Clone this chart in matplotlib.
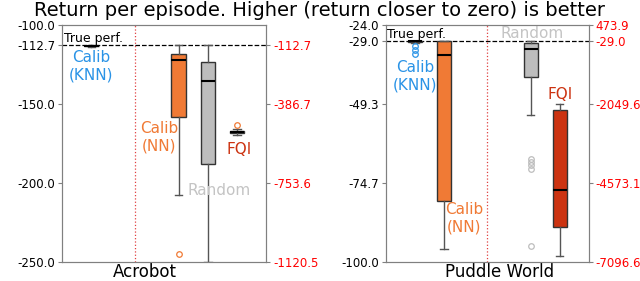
import matplotlib
matplotlib.use("Agg")
import matplotlib.pyplot as plt

# ---------------- data (box stats: whislo, q1, med, q3, whishi) ----------------
acro_true = -112.7
acro_knn = [-113.8, -113.5, -113.2, -113.0, -112.8]
acro_knn_fl = []
acro_nn = [-207.9, -158.5, -121.9, -118.1, -112.7]
acro_nn_fl = [-245.4]
acro_rand = [-250.0, -188.3, -135.8, -123.4, -112.7]
acro_rand_fl = []
acro_fqi = [-530.5, -523.2, -518.0, -511.4, -505.6]   # right (red) scale
acro_fqi_fl = [-483.6]
acro_left_ticks = [-250.0, -200.0, -150.0, -112.7, -100.0]
acro_right_ticks = [-1120.5, -753.6, -386.7, -112.7]
acro_left_lim = (-250.0, -100.0)
acro_right_lim = (-1120.5, -19.8)

pw_true = -29.0
pw_knn = [-29.7, -29.4, -29.2, -29.0, -29.0]
pw_knn_fl = [-30.6, -32.0, -33.4]
pw_nn = [-95.9, -80.5, -33.6, -29.0, -29.0]
pw_nn_fl = []
pw_rand = [-52.9, -40.6, -31.8, -29.9, -29.0]
pw_rand_fl = [-66.9, -68.0, -69.1, -70.2, -94.9]
pw_fqi = [-6917.0, -6001.0, -4806.0, -2246.0, -2056.0]   # right (red) scale
pw_fqi_fl = []
pw_left_ticks = [-100.0, -74.7, -49.3, -29.0, -24.0]
pw_right_ticks = [-7096.6, -4573.1, -2049.6, -29.0, 473.9]
pw_left_lim = (-100.0, -24.0)
pw_right_lim = (-7096.6, 473.9)

env_names = ["Acrobot", "Puddle World"]
title = "Return per episode. Higher (return closer to zero) is better"

# ---------------- style ----------------
C_KNN_BOX = "#1f4f8f"
C_KNN_TXT = "#2a93e6"
C_NN = "#f07a35"
C_RAND = "#bdbdbd"
C_RAND_TXT = "#c4c4c4"
C_FQI = "#cc3311"
SPINE = "#808080"

fig = plt.figure(figsize=(6.4, 2.81), dpi=100)
axL = fig.add_axes([0.097, 0.069, 0.319, 0.842])
axR = fig.add_axes([0.603, 0.069, 0.317, 0.842])


def stat(v, fl):
    return dict(whislo=v[0], q1=v[1], med=v[2], q3=v[3], whishi=v[4], fliers=fl)


def draw(ax, s, pos, color, flcolor):
    ax.bxp([s], positions=[pos], widths=0.5, patch_artist=True,
           boxprops=dict(facecolor=color, edgecolor="#333333", linewidth=1),
           medianprops=dict(color="black", linewidth=1.5),
           whiskerprops=dict(color="#555555", linewidth=1),
           capprops=dict(color="#555555", linewidth=1),
           flierprops=dict(marker="o", markerfacecolor="none",
                           markeredgecolor=flcolor, markersize=4, markeredgewidth=0.9),
           manage_ticks=False)


def setup(ax, lim, rlim, lticks, rticks, true_v, vline_x, xlab, xlab_pos):
    ax.set_xlim(0, 7)
    ax.set_ylim(*lim)
    ax.set_yticks(lticks)
    ax.set_yticklabels(["%.1f" % t for t in lticks], fontsize=8.5)
    ax.set_xticks([xlab_pos])
    ax.set_xticklabels([xlab], fontsize=12)
    ax.tick_params(axis="x", length=0, pad=1.2)
    ax.tick_params(axis="y", colors=SPINE, labelcolor="black", length=3, pad=2)
    for sp in ax.spines.values():
        sp.set_color(SPINE)
    ax.axhline(true_v, color="black", linestyle="--", linewidth=0.9, zorder=1)
    ax.axvline(vline_x, color="#e04040", linestyle=":", linewidth=0.9, zorder=1)
    ax.text(0.05, true_v, "True perf.", fontsize=9, va="bottom", ha="left")
    tw = ax.twinx()
    tw.set_ylim(*rlim)
    tw.set_yticks(rticks)
    tw.set_yticklabels(["%.1f" % t for t in rticks], fontsize=8.5)
    tw.tick_params(axis="y", colors=SPINE, labelcolor="red", length=3, pad=2)
    for sp in tw.spines.values():
        sp.set_color(SPINE)
    return tw


# Acrobot
twL = setup(axL, acro_left_lim, acro_right_lim, acro_left_ticks, acro_right_ticks,
            acro_true, 2.5, env_names[0], 2.85)
draw(axL, stat(acro_knn, acro_knn_fl), 1, C_KNN_BOX, C_KNN_TXT)
draw(axL, stat(acro_nn, acro_nn_fl), 4, C_NN, C_NN)
draw(axL, stat(acro_rand, acro_rand_fl), 5, C_RAND, C_RAND)
draw(twL, stat(acro_fqi, acro_fqi_fl), 6, C_FQI, C_NN)
axL.text(1, -126, "Calib\n(KNN)", color=C_KNN_TXT, fontsize=11, ha="center", va="center")
axL.text(3.33, -171.2, "Calib\n(NN)", color=C_NN, fontsize=11, ha="center", va="center")
axL.text(5.4, -204.7, "Random", color=C_RAND_TXT, fontsize=11, ha="center", va="center")
axL.text(6.08, -178.7, "FQI", color=C_FQI, fontsize=11, ha="center", va="center")

# Puddle World
twR = setup(axR, pw_left_lim, pw_right_lim, pw_left_ticks, pw_right_ticks,
            pw_true, 3.5, env_names[1], 3.93)
draw(axR, stat(pw_knn, pw_knn_fl), 1, C_KNN_BOX, C_KNN_TXT)
draw(axR, stat(pw_nn, pw_nn_fl), 2, C_NN, C_NN)
draw(axR, stat(pw_rand, pw_rand_fl), 5, C_RAND, C_RAND)
draw(twR, stat(pw_fqi, pw_fqi_fl), 6, C_FQI, C_FQI)
axR.text(1, -40.4, "Calib\n(KNN)", color=C_KNN_TXT, fontsize=11, ha="center", va="center")
axR.text(2.69, -86.0, "Calib\n(NN)", color=C_NN, fontsize=11, ha="center", va="center")
axR.text(5.03, -26.7, "Random", color=C_RAND_TXT, fontsize=11, ha="center", va="center")
axR.text(6.0, -46.2, "FQI", color=C_FQI, fontsize=11, ha="center", va="center")

fig.text(0.5, 0.998, title, fontsize=14, ha="center", va="top")

fig.savefig("out.png", dpi=100)
